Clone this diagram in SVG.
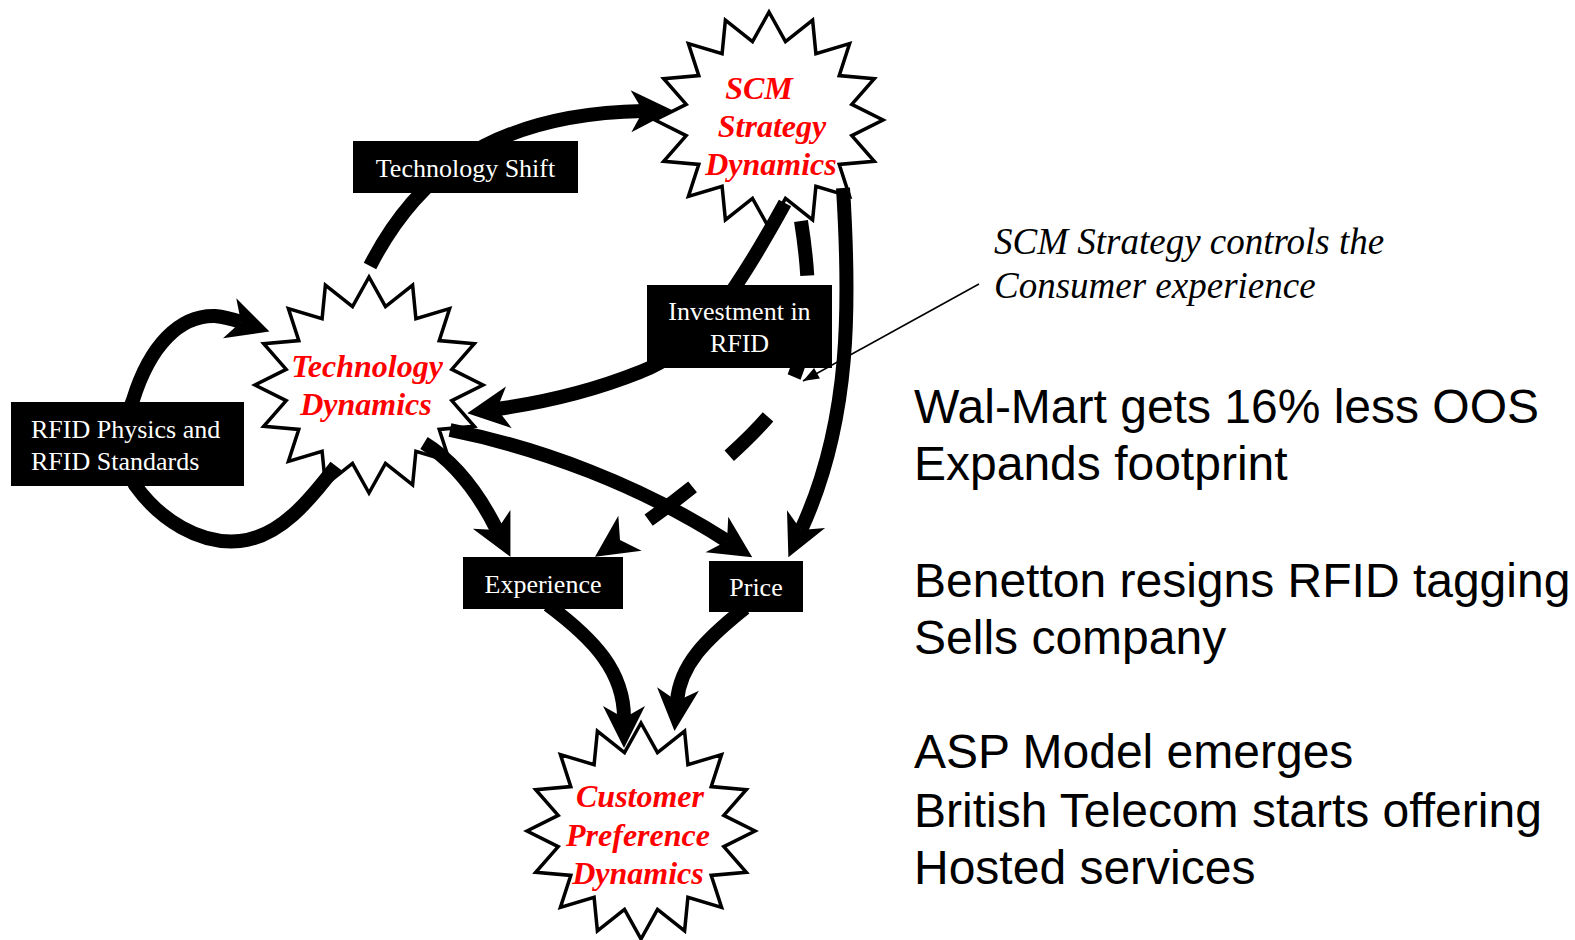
<svg xmlns="http://www.w3.org/2000/svg" xmlns:xlink="http://www.w3.org/1999/xlink" width="1575" height="940" viewBox="0 0 1575 940">
  <style>
    .star { fill: #ffffff; stroke: #000000; stroke-width: 3.5; stroke-linejoin: miter; }
    .dyn { font-family: "Liberation Serif", "Times New Roman", serif; font-size: 32px; font-weight: bold; font-style: italic; fill: #ff0000; text-anchor: middle; }
    .box { fill: #000000; }
    .lbl { font-family: "Liberation Serif", "Times New Roman", serif; font-size: 26px; fill: #ffffff; }
    .mid { text-anchor: middle; }
    .flow { fill: none; stroke: #000000; stroke-width: 14; stroke-linecap: butt; marker-end: url(#head); }
    .dash { stroke-dasharray: 55 48; }
    .note { font-family: "Liberation Serif", "Times New Roman", serif; font-size: 37px; font-style: italic; fill: #000000; }
    .side { font-family: "Liberation Sans", Arial, sans-serif; font-size: 48px; fill: #000000; }
  </style>
  <defs>
    <!-- 16-point burst, centred on the origin -->
    <polygon id="star16" points="0,-108 16.5,-78.4 43.6,-99.8 46.9,-66.4 80.6,-76.4 70.2,-44.4 105.3,-41.3 82.8,-15.6 114,0 82.8,15.6 105.3,41.3 70.2,44.4 80.6,76.4 46.9,66.4 43.6,99.8 16.5,78.4 0,108 -16.5,78.4 -43.6,99.8 -46.9,66.4 -80.6,76.4 -70.2,44.4 -105.3,41.3 -82.8,15.6 -114,0 -82.8,-15.6 -105.3,-41.3 -70.2,-44.4 -80.6,-76.4 -46.9,-66.4 -43.6,-99.8 -16.5,-78.4"/>
    <!-- swept-back arrowhead; the path ends at the notch -->
    <marker id="head" viewBox="-13 -22 44 44" markerWidth="44" markerHeight="44" refX="0" refY="0" orient="auto" markerUnits="userSpaceOnUse">
      <path d="M30 0 L-12 -21 L0 0 L-12 21 Z" fill="#000000"/>
    </marker>
    <marker id="tip" viewBox="-1 -7 18 14" markerWidth="18" markerHeight="14" refX="16" refY="0" orient="auto" markerUnits="userSpaceOnUse">
      <path d="M16 0 L0 -6 L0 6 Z" fill="#000000"/>
    </marker>
  </defs>

  <rect x="0" y="0" width="1575" height="940" fill="#ffffff"/>

  <!-- dynamics bursts -->
  <g id="scm-strategy">
    <use xlink:href="#star16" class="star" transform="translate(769 120)"/>
    <text class="dyn" x="759" y="99">SCM</text>
    <text class="dyn" x="772" y="137">Strategy</text>
    <text class="dyn" x="771" y="175">Dynamics</text>
  </g>
  <g id="technology-dynamics">
    <use xlink:href="#star16" class="star" transform="translate(369 385)"/>
    <text class="dyn" x="367" y="377">Technology</text>
    <text class="dyn" x="366" y="415">Dynamics</text>
  </g>
  <g id="customer-preference">
    <use xlink:href="#star16" class="star" transform="translate(641 831)"/>
    <text class="dyn" x="640" y="807">Customer</text>
    <text class="dyn" x="638" y="846">Preference</text>
    <text class="dyn" x="638" y="884">Dynamics</text>
  </g>

  <!-- connectors -->
  <g id="connectors">
    <path class="flow" d="M370 266 C410 188 478 114 643 111"/>
    <path class="flow" d="M785 203 C740 285 700 350 640 372 C590 392 540 403 497 409"/>
    <path class="flow" d="M843 188 C850 300 852 420 801 530"/>
    <path class="flow dash" d="M801 221 C812 290 812 350 785 395 C755 440 680 500 620 540"/>
    <path class="flow" d="M424 443 C455 462 478 492 497 530"/>
    <path class="flow" d="M450 430 C540 448 640 485 727 541"/>
    <path class="flow" d="M548 605 C595 640 624 672 624 718"/>
    <path class="flow" d="M745 608 C705 640 680 665 677 701"/>
    <path class="flow" d="M336 466 C310 500 280 537 240 541 C200 545 160 520 135 485 C120 460 120 430 133 400 C150 345 180 315 215 316 C225 317 235 320 241 322"/>
    <path d="M979 284 L803 381" fill="none" stroke="#000000" stroke-width="1.5" marker-end="url(#tip)"/>
  </g>

  <!-- labelled boxes -->
  <g id="technology-shift">
    <rect class="box" x="353" y="141" width="225" height="52"/>
    <text class="lbl mid" x="465.5" y="177">Technology Shift</text>
  </g>
  <g id="investment-rfid">
    <rect class="box" x="647" y="285" width="185" height="83"/>
    <text class="lbl mid" x="739.5" y="320">Investment in</text>
    <text class="lbl mid" x="739.5" y="352">RFID</text>
  </g>
  <g id="rfid-physics">
    <rect class="box" x="11" y="402" width="233" height="84"/>
    <text class="lbl" x="31" y="438">RFID Physics and</text>
    <text class="lbl" x="31" y="470">RFID Standards</text>
  </g>
  <g id="experience">
    <rect class="box" x="463" y="557" width="160" height="52"/>
    <text class="lbl mid" x="543" y="593">Experience</text>
  </g>
  <g id="price">
    <rect class="box" x="709" y="561" width="94" height="51"/>
    <text class="lbl mid" x="756" y="596">Price</text>
  </g>

  <!-- annotation -->
  <g id="annotation">
    <text class="note" x="994" y="254">SCM Strategy controls the</text>
    <text class="note" x="994" y="298">Consumer experience</text>
  </g>

  <!-- market events -->
  <g id="events">
    <text class="side" x="914" y="423">Wal-Mart gets 16% less OOS</text>
    <text class="side" x="914" y="480">Expands footprint</text>
    <text class="side" x="914" y="597">Benetton resigns RFID tagging</text>
    <text class="side" x="914" y="654">Sells company</text>
    <text class="side" x="914" y="768">ASP Model emerges</text>
    <text class="side" x="914" y="827">British Telecom starts offering</text>
    <text class="side" x="914" y="884">Hosted services</text>
  </g>
</svg>
